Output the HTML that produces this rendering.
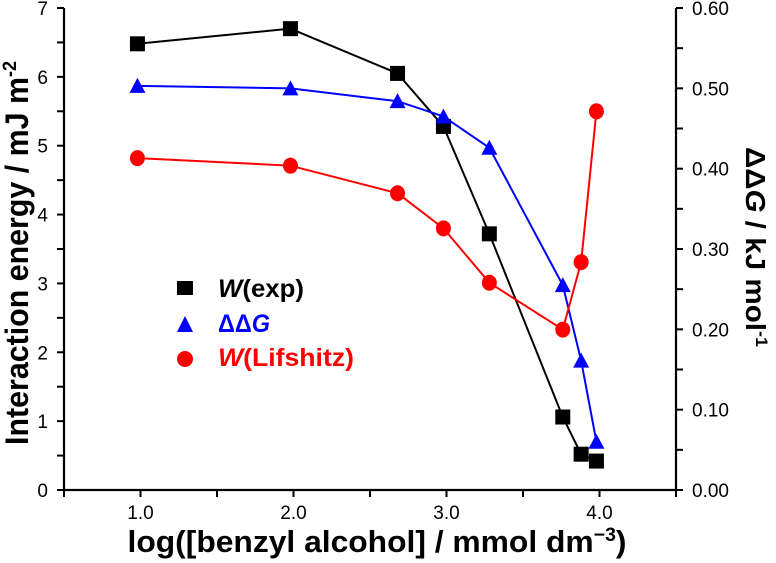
<!DOCTYPE html>
<html><head><meta charset="utf-8"><style>
body{margin:0;background:#fff;}
svg{display:block;font-family:"Liberation Sans",Arial,sans-serif;}
</style></head><body>
<svg id="chart" width="776" height="563">
<g id="axes"></g><g id="series"></g>
<text transform="translate(28,253) rotate(-90)" text-anchor="middle" font-size="32" font-weight="bold" textLength="384" lengthAdjust="spacingAndGlyphs">Interaction energy / mJ m<tspan dy="-12" font-size="19">-2</tspan></text>
<text transform="translate(746,247) rotate(90)" text-anchor="middle" font-size="28" font-weight="bold" textLength="200" lengthAdjust="spacingAndGlyphs">ΔΔ<tspan font-style="italic">G</tspan> / kJ mol<tspan dy="-10" font-size="17">-1</tspan></text>
<text x="377" y="552" text-anchor="middle" font-size="31" font-weight="bold" textLength="499" lengthAdjust="spacingAndGlyphs">log([benzyl alcohol] / mmol dm<tspan dy="-11" font-size="19">−3</tspan><tspan dy="11">)</tspan></text>
<g font-size="25" font-weight="bold">
<rect x="177" y="281" width="16" height="14" fill="#000"/>
<text x="218" y="297" textLength="86" lengthAdjust="spacingAndGlyphs"><tspan font-style="italic">W</tspan>(exp)</text>
<polygon points="177,332 185,316 193,332" fill="#0000ff"/>
<text x="218" y="332" fill="#0000ff" textLength="52" lengthAdjust="spacingAndGlyphs">ΔΔ<tspan font-style="italic">G</tspan></text>
<ellipse cx="185" cy="359" rx="8" ry="8" fill="#ff0000"/>
<text x="218" y="366" fill="#ff0000" textLength="136" lengthAdjust="spacingAndGlyphs"><tspan font-style="italic">W</tspan>(Lifshitz)</text>
</g>
</svg>
<script>
const xExp=[0.98,1.98,2.68,2.98,3.28,3.76,3.88,3.98];
const yExp=[6.48,6.70,6.05,5.28,3.72,1.06,0.52,0.42];
const xDdg=[0.98,1.98,2.68,2.98,3.28,3.76,3.88,3.98];
const yDdg=[0.503,0.500,0.484,0.465,0.426,0.255,0.161,0.060];
const xLif=[0.98,1.98,2.68,2.98,3.28,3.76,3.88,3.98];
const yLif=[4.82,4.71,4.31,3.80,3.01,2.33,3.31,5.50];
const xTicks=[1.0,2.0,3.0,4.0];
const xTickLabels=["1.0","2.0","3.0","4.0"];
const yTicks=[0,1,2,3,4,5,6,7];
const y2Ticks=[0,0.1,0.2,0.3,0.4,0.5,0.6];
const y2TickLabels=["0.00","0.10","0.20","0.30","0.40","0.50","0.60"];
const NS="http://www.w3.org/2000/svg";
const L=64,R=676,T=8,B=490;
const sx=v=>L+(v-0.5)/4*(R-L);
const sy=v=>B-v/7*(B-T);
const sy2=v=>B-v/0.6*(B-T);
const axes=document.getElementById('axes'),ser=document.getElementById('series');
function mk(tag,at,par){const e=document.createElementNS(NS,tag);for(const k in at)e.setAttribute(k,at[k]);par.appendChild(e);return e;}
let e;
e=mk('path',{d:`M${L},${T}V${B}H${R}V${T}`,stroke:'#000','stroke-width':2.2,fill:'none'},axes);


for(let v=0.5;v<=4.51;v+=0.5){e=mk('line',{x1:sx(v),x2:sx(v),y1:B,y2:B+7,stroke:'#000','stroke-width':2},axes);

}
xTicks.forEach((v,i)=>{e=mk('text',{x:sx(v),y:B+29,'text-anchor':'middle','font-size':19},axes);e.textContent=xTickLabels[i];

});
for(let v=0;v<=7.01;v+=0.5){e=mk('line',{x1:L-7,x2:L,y1:sy(v),y2:sy(v),stroke:'#000','stroke-width':2},axes);

}
yTicks.forEach(v=>{e=mk('text',{x:L-16,y:sy(v)+7,'text-anchor':'end','font-size':19},axes);e.textContent=v;

});
for(let v=0;v<=0.601;v+=0.05){e=mk('line',{x1:R,x2:R+7,y1:sy2(v),y2:sy2(v),stroke:'#000','stroke-width':2},axes);

}
y2Ticks.forEach((v,i)=>{e=mk('text',{x:R+16,y:sy2(v)+7,'font-size':19},axes);e.textContent=y2TickLabels[i];

});
function line(xs,ys,f,col,name){e=mk('polyline',{points:xs.map((x,i)=>sx(x)+','+f(ys[i])).join(' '),fill:'none',stroke:col,'stroke-width':2},ser);

}
line(xExp,yExp,sy,'#000','line-exp');
line(xDdg,yDdg,sy2,'#0000ff','line-ddg');
line(xLif,yLif,sy,'#ff0000','line-lifshitz');
xExp.forEach((x,i)=>{e=mk('rect',{x:sx(x)-7.5,y:sy(yExp[i])-7.5,width:15,height:15,fill:'#000'},ser);

});
xDdg.forEach((x,i)=>{const cx=sx(x),cy=sy2(yDdg[i]);e=mk('polygon',{points:`${cx-8},${cy+7} ${cx},${cy-8} ${cx+8},${cy+7}`,fill:'#0000ff'},ser);

});
xLif.forEach((x,i)=>{e=mk('ellipse',{cx:sx(x),cy:sy(yLif[i]),rx:7.5,ry:8,fill:'#ff0000'},ser);

});
</script>
</body></html>
